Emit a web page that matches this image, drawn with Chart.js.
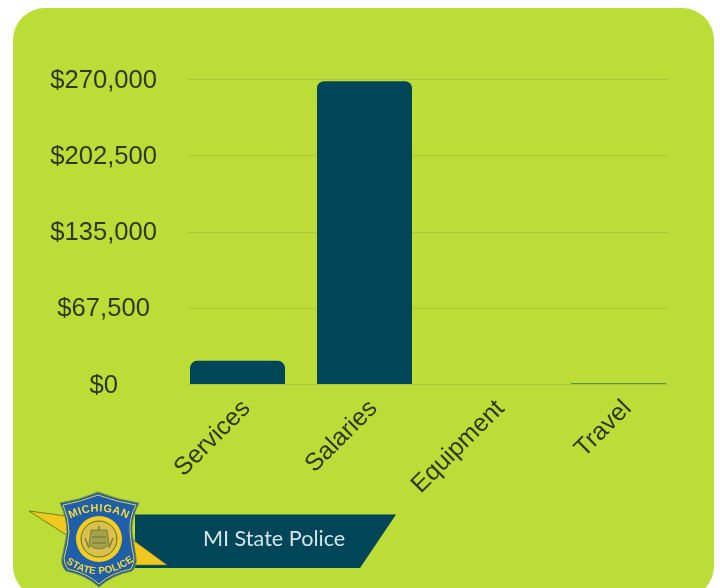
<!DOCTYPE html>
<html>
<head>
<meta charset="utf-8">
<script src="https://cdn.jsdelivr.net/npm/chart.js@4"></script>
<style>
  html, body { margin: 0; padding: 0; background: #fff; width: 720px; height: 588px; overflow: hidden; }
  #card { position: absolute; left: 13px; top: 8px; width: 701px; height: 590px; background: #bcdc38; border-radius: 32px; }
  #plot { position: absolute; left: 0; top: 0; width: 720px; height: 588px; }
  #badge { position: absolute; left: 0; top: 0; }
</style>
</head>
<body>
<div id="card"></div>
<div id="plot"><canvas id="spend" width="720" height="588"></canvas></div>
<svg id="badge" width="720" height="588" viewBox="0 0 720 588">
  <polygon points="135,514.5 396,514.5 360,568 135,568" fill="#004558"/>
  <polygon points="29,511 66,516 68,536" fill="#f3c81e" stroke="#5f7a22" stroke-width="0.9"/>
  <polygon points="133,540 167,565 133,565" fill="#f3c81e" stroke="#5f7a22" stroke-width="0.6"/>
  <path d="M60,503 Q80,500 98,492 Q118,500 139,503 Q131,518 132,532 Q134,545 136,558 Q137,566 132,571 Q112,575 99,587 Q86,575 66,571 Q61,566 62,558 Q65,545 67,532 Q67,518 60,503 Z" fill="#1f5fa9" stroke="#76902c" stroke-width="1"/>
  <path d="M63,505 Q80,502 98,495 Q117,502 136,505 Q129,518 130,532 Q131,545 134,558 Q134,564 131,569 Q111,573 99,584 Q87,573 68,569 Q64,564 64,558 Q68,545 69,532 Q69,518 63,505 Z" fill="none" stroke="#e3cf4e" stroke-width="1"/>
  <circle cx="99" cy="539" r="23" fill="#f4cd22"/>
  <circle cx="99" cy="539" r="18" fill="#d9bf4e" stroke="#5d6d2a" stroke-width="1"/>
  <path d="M91,530 L107,530 L109,545 Q99,553 89,545 Z" fill="#a3a24a" stroke="#6f7430" stroke-width="0.8"/>
  <path d="M85,538 L89,548 M113,538 L109,548 M92,537 L106,537 M92,543 L106,543 M99,526 L99,530" stroke="#6f7430" stroke-width="1.2" fill="none"/>
  <path id="arcTop" d="M60,525 Q99,498 138,525" fill="none"/>
  <path id="arcBottom" d="M60,558 Q98,591 140,556" fill="none"/>
  <text font-family="'Liberation Sans Narrow', 'Liberation Sans', Arial, sans-serif" font-weight="700" font-size="11" fill="#f6d83c" letter-spacing="0.5">
    <textPath href="#arcTop" startOffset="50%" text-anchor="middle">MICHIGAN</textPath>
  </text>
  <text font-family="'Liberation Sans Narrow', 'Liberation Sans', Arial, sans-serif" font-weight="700" font-size="10" fill="#f6d83c" letter-spacing="0.2">
    <textPath href="#arcBottom" startOffset="50%" text-anchor="middle">STATE POLICE</textPath>
  </text>
  <text x="203" y="546" font-family="Lato, 'Open Sans', sans-serif" font-size="21.6" fill="#d3e5ea">MI State Police</text>
</svg>
<script>
// Spending by category
const categories = ['Services', 'Salaries', 'Equipment', 'Travel'];
const amounts = [20500, 268000, 0, 500];
const tickValues = [0, 67500, 135000, 202500, 270000];

const BAR_COLOR = '#004558';
const GRID_COLOR = '#a8c83a';
const TEXT_COLOR = '#2e3a17';
const X_FONT = { family: "'Liberation Sans', Arial, sans-serif", size: 25 };
const Y_FONT = { family: "'Liberation Sans', Arial, sans-serif", size: 25.6 };

// Horizontal rules stop short of the category band on both sides.
const insetRules = {
  id: 'insetRules',
  beforeDatasetsDraw(chart) {
    const { ctx, scales: { y } } = chart;
    ctx.save();
    ctx.strokeStyle = GRID_COLOR;
    ctx.lineWidth = 1;
    tickValues.forEach(v => {
      const py = Math.round(y.getPixelForValue(v)) + 0.5;
      ctx.beginPath();
      ctx.moveTo(188, py);
      ctx.lineTo(668, py);
      ctx.stroke();
    });
    ctx.restore();
  }
};

new Chart(document.getElementById('spend'), {
  type: 'bar',
  data: {
    labels: categories,
    datasets: [{
      data: amounts,
      backgroundColor: BAR_COLOR,
      borderRadius: { topLeft: 7, topRight: 7 },
      borderSkipped: 'bottom',
      barPercentage: 0.748,
      categoryPercentage: 1
    }]
  },
  options: {
    responsive: false,
    animation: false,
    layout: { padding: { top: 79, right: 38, left: 0, bottom: 0 } },
    plugins: { legend: { display: false }, tooltip: { enabled: false } },
    scales: {
      x: {
        grid: { display: false },
        border: { display: false },
        afterFit(s) { s.height = 204; },
        ticks: {
          color: TEXT_COLOR,
          font: X_FONT,
          autoSkip: false,
          minRotation: 45,
          maxRotation: 45,
          labelOffset: 9,
          padding: 2
        }
      },
      y: {
        min: 0,
        max: 270000,
        grid: { display: false },
        border: { display: false },
        afterFit(s) { s.width = 174; },
        afterBuildTicks(s) { s.ticks = tickValues.map(value => ({ value })); },
        ticks: {
          color: TEXT_COLOR,
          font: Y_FONT,
          padding: 9,
          labelOffset: 1.5,
          crossAlign: 'center',
          callback: v => '$' + Number(v).toLocaleString('en-US')
        }
      }
    }
  },
  plugins: [insetRules]
});
</script>
</body>
</html>
